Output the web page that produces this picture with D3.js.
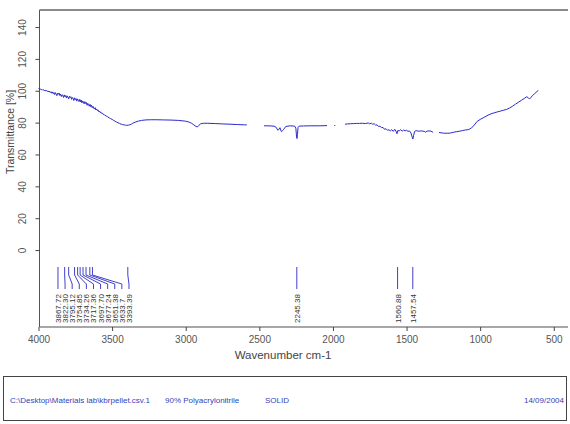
<!DOCTYPE html>
<html><head><meta charset="utf-8">
<script src="https://cdn.jsdelivr.net/npm/d3@7"></script>
<style>body{margin:0;background:#fff}svg{display:block;font-family:"Liberation Sans",Arial,sans-serif}</style>
</head><body><svg id="c" width="570" height="424"></svg>
<script>
// Spectrum (null = gap in the trace)
const wavenumber = [4000,3995,3990,3985,3980,3975,3970,3965,3960,3955,3950,3945,3940,3935,3930,3925,3920,3915,3910,3905,3900,3895,3890,3885,3880,3875,3870,3865,3860,3855,3850,3845,3840,3835,3830,3825,3820,3815,3810,3805,3800,3795,3790,3785,3780,3775,3770,3765,3760,3755,3750,3745,3740,3735,3730,3725,3720,3715,3710,3705,3700,3695,3690,3685,3680,3675,3670,3665,3660,3655,3650,3645,3640,3635,3630,3625,3620,3615,3610,3605,3600,3595,3590,3585,3580,3575,3570,3565,3560,3555,3550,
 3540,3530,3520,3510,3500,3490,3480,3470,3460,3450,3440,3430,3420,3410,3400,3390,3380,3370,3360,3340,3320,3300,3270,3240,3200,3150,3100,3050,3000,2980,2960,2945,2930,2920,2912,2900,2880,2850,2800,2750,2700,2650,2600,2585,
 2530,
 2468,2440,2400,2385,2375,2368,2360,2350,2342,2335,2320,2290,2260,2252,2247,2244,2241,2237,2230,2200,2150,2100,2040,
 2010,1991,1984,1960,
 1918,1900,1880,1860,1840,1820,1800,1780,1760,1750,1740,1730,1720,1710,1700,1690,1680,1670,1660,1650,1640,1630,1620,1610,1600,1590,1580,1570,1565,1560,1550,1540,1530,1520,1510,1500,1490,1480,1470,1462,1457,1452,1445,1435,1420,1400,1380,1370,1360,1340,1320,
 1300,
 1280,1250,1220,1200,1180,1160,1140,1120,1100,1080,1060,1040,1020,1000,980,960,940,920,900,880,860,840,820,800,780,760,740,720,700,685,675,665,655,645,630,615,605];
const transmittance = [101.5,101.2,100.9,101.1,100.6,100.8,100.3,100.7,100.1,100.4,99.8,100.2,99.6,99.9,99.2,99.7,98.9,99.4,98.5,99.3,98.2,98.9,97.6,98.8,97.9,96.9,98.4,97.8,98.6,97.0,97.9,96.4,97.5,97.1,95.8,97.4,96.2,97.0,95.4,96.8,96.0,94.9,96.5,95.7,96.3,94.6,95.8,95.2,93.9,95.6,94.4,95.1,93.5,94.9,94.0,93.2,94.6,93.0,94.2,92.4,93.6,92.9,91.8,93.2,92.0,92.6,90.9,92.1,91.2,90.3,91.5,90.0,90.9,89.3,90.2,89.1,88.5,89.4,87.9,88.6,87.6,87.9,86.8,87.3,86.2,86.5,85.7,85.9,85.1,85.2,84.6,
 84.2,83.6,83.0,82.5,82.0,81.4,80.9,80.4,79.9,79.5,79.1,78.8,78.6,78.4,78.3,78.4,78.6,79.0,79.6,80.4,81.0,81.4,81.7,81.8,81.8,81.7,81.6,81.4,80.9,80.4,79.6,78.6,77.6,77.3,78.2,79.2,79.6,79.6,79.4,79.2,79.0,78.8,78.6,78.6,
 null,
 78.0,78.0,77.8,77.0,75.3,75.6,76.8,74.3,75.0,75.8,77.6,78.0,77.8,76.5,71.0,70.0,72.5,77.0,77.8,77.9,78.0,78.0,78.1,
 null,78.2,78.2,null,
 79.0,79.2,79.3,79.4,79.5,79.5,79.6,79.4,79.8,79.2,79.7,79.0,79.3,78.4,78.6,77.6,77.8,76.8,77.0,75.8,76.2,75.2,75.5,74.8,75.6,74.5,75.8,74.2,73.0,75.0,74.8,75.6,74.6,75.4,74.8,75.2,74.5,74.8,73.5,71.0,69.7,72.0,74.5,75.0,74.6,74.8,74.5,74.0,74.7,74.8,74.0,
 null,
 73.8,73.4,73.3,73.5,74.0,74.3,74.6,75.0,75.4,75.6,76.5,78.5,80.8,82.0,83.0,84.0,85.0,85.7,86.3,86.8,87.3,87.8,88.3,89.2,90.3,91.6,92.8,94.0,95.2,96.2,95.8,94.8,95.8,97.0,98.2,99.5,100.2];

const xTicks = [4000,3500,3000,2500,2000,1500,1000,500];
const yTicks = [0,20,40,60,80,100,120,140];

const peakLabels = ["3867.72","3822.30","3795.12","3754.85","3734.26","3717.36","3697.70","3677.24","3651.38","3633.7","3393.39","2245.38","1560.88","1457.54"];
const peakWavenumbers = peakLabels.map(Number);

const footerTexts = ["C:\\Desktop\\Materials lab\\kbrpellet.csv.1","90% Polyacrylonitrile","SOLID","14/09/2004"];

const svg = d3.select("#c");
const x = d3.scaleLinear().domain([4000, 400]).range([38.5, 568.5]);
const y = d3.scaleLinear().domain([-48.3, 150.7]).range([327, 10]);
const left = 39.5, bottom = 327;

// top border
svg.append("line").attr("x1", left).attr("x2", 568).attr("y1", 10).attr("y2", 10)
  .attr("stroke", "#8a8a8a").attr("stroke-width", 2);

// x axis
const xAxis = svg.append("g").attr("transform", `translate(0,${bottom})`)
  .call(d3.axisBottom(x).tickValues(xTicks).tickSize(4).tickPadding(5).tickFormat(d3.format("d")).tickSizeOuter(0));
xAxis.select(".domain").attr("stroke", "#8a8a8a").attr("stroke-width", 1.5).attr("d", `M${left},0H568`);
xAxis.selectAll(".tick line").attr("stroke", "#444");
xAxis.selectAll("text").attr("font-size", 10).attr("fill", "#555").attr("font-family", "Liberation Sans, Arial, sans-serif");

// y axis
const yAxis = svg.append("g").attr("transform", `translate(${left},0)`)
  .call(d3.axisLeft(y).tickValues(yTicks).tickSize(4).tickSizeOuter(0));
yAxis.select(".domain").attr("stroke", "#555").attr("d", `M0,10V${bottom}`);
yAxis.selectAll(".tick line").attr("stroke", "#444");
yAxis.selectAll(".tick text").attr("font-size", 10).attr("fill", "#555")
  .attr("font-family", "Liberation Sans, Arial, sans-serif")
  .attr("text-anchor", "middle").attr("x", 0).attr("dy", 0)
  .attr("transform", "translate(-14,0) rotate(-90)");

// axis titles
svg.append("text").attr("x", 283).attr("y", 359).attr("text-anchor", "middle")
  .attr("font-size", 11.5).attr("fill", "#444").text("Wavenumber cm-1");
svg.append("text").attr("transform", "translate(14,132) rotate(-90)").attr("text-anchor", "middle")
  .attr("font-size", 10.5).attr("fill", "#444").text("Transmittance [%]");

// spectrum
const pts = wavenumber.map((w, i) => [w, transmittance[i]]);
svg.append("path").datum(pts)
  .attr("d", d3.line().defined(d => d[1] !== null).x(d => x(d[0])).y(d => y(d[1])))
  .attr("fill", "none").attr("stroke", "#2a2ad0").attr("stroke-width", 1);

// peak markers: labels pushed rightwards so that they keep a minimum gap
const gap = 7.1;
const peaks = peakWavenumbers.map((w, i) => ({ px: x(w), label: peakLabels[i] })).sort((a, b) => a.px - b.px);
peaks.forEach((p, i) => { p.lx = i === 0 ? p.px : Math.max(p.px, peaks[i - 1].lx + gap); });
const pg = svg.append("g");
peaks.forEach(p => {
  pg.append("path").attr("d", `M${p.px},267V275L${p.lx},284V289`)
    .attr("fill", "none").attr("stroke", "#4040c8").attr("stroke-width", 1);
  pg.append("text").attr("transform", `translate(${p.lx + 3},323) rotate(-90)`)
    .attr("font-size", 8).attr("fill", "#333").text(p.label);
});

// footer
svg.append("rect").attr("x", 3.5).attr("y", 376.5).attr("width", 563).attr("height", 44)
  .attr("fill", "none").attr("stroke", "#444").attr("stroke-width", 1);
const fx = [10, 165, 265];
footerTexts.forEach((t, i) => {
  const el = svg.append("text").attr("y", 403).attr("font-size", 8).attr("fill", "#3344bb").text(t);
  if (i < 3) el.attr("x", fx[i]); else el.attr("x", 564).attr("text-anchor", "end");
});
</script></body></html>
